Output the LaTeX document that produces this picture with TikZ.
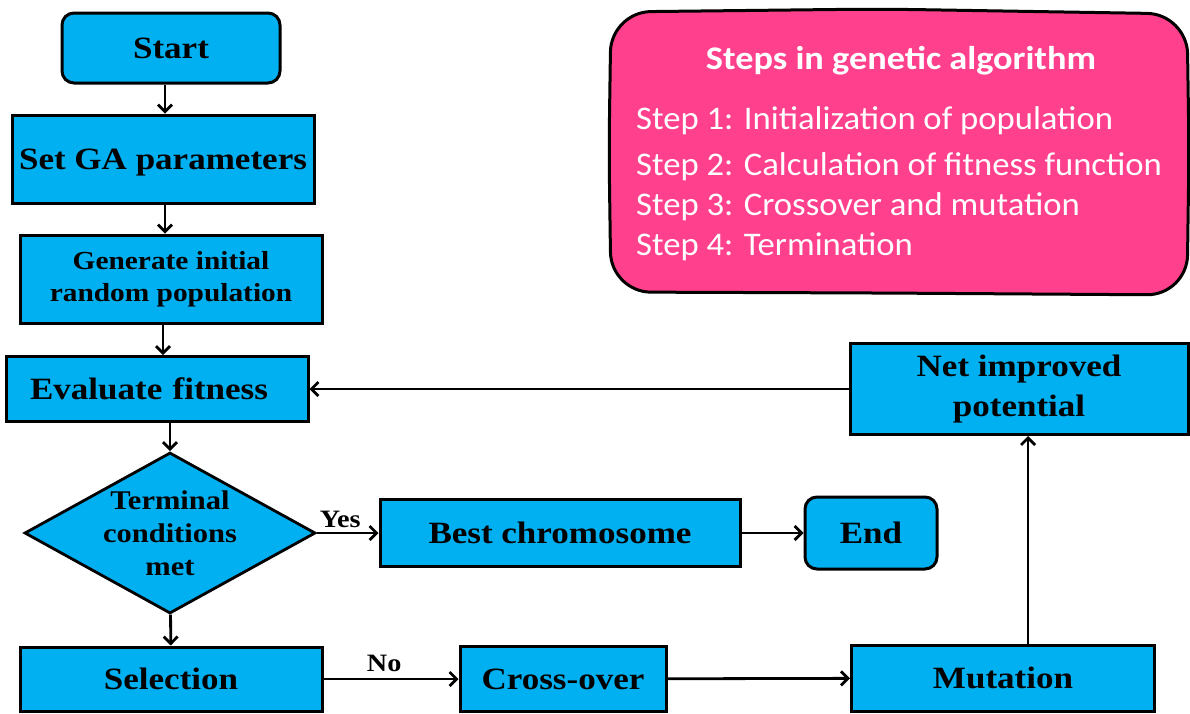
\documentclass[tikz,border=0pt]{standalone}
\usepackage{fontspec}
\setmainfont[FakeStretch=1.13]{Liberation Serif}
\newfontfamily\notefont[FakeStretch=1.05]{Carlito}
\newfontfamily\notetitlefont[FakeStretch=1.1]{Carlito}
\usetikzlibrary{arrows.meta,shapes.geometric}
\definecolor{boxblue}{RGB}{0,176,240}
\definecolor{notepink}{RGB}{255,64,140}

\begin{document}
\begin{tikzpicture}[x=1pt,y=-1pt,
  box/.style={draw=black,line width=3pt,fill=boxblue,inner sep=0pt,
    align=center,font=\bfseries\fontsize{31}{34}\selectfont},
  oneline/.style={text depth=0pt},
  term/.style={box,oneline,rounded corners=12pt},
  decision/.style={draw=black,line width=2.8pt,fill=boxblue,shape=diamond,
    inner sep=0pt,minimum width=291pt,minimum height=161pt},
  flow/.style={line width=2.8pt,-{Straight Barb[length=7pt,width=14pt,line width=2.8pt]}},
  tag/.style={font=\bfseries\fontsize{25}{26}\selectfont},
  notetext/.style={text=white,anchor=base west,inner sep=0pt,
    font=\notefont\fontsize{33}{34}\selectfont},
]
\useasboundingbox (0,0) rectangle (1190,713);

% note card with the four steps, slightly hand-drawn outline
\draw[line width=3pt,fill=notepink,rounded corners=40pt]
  (609,150) -- (611,12) -- (880,9) -- (1187,14) -- (1189,150)
  -- (1187,295) -- (880,293) -- (611,292) -- cycle;
\node (title) [text=white,anchor=base,inner sep=0pt,
  font=\notetitlefont\bfseries\fontsize{33}{34}\selectfont] at (901,69) {Steps in genetic algorithm};
\node (s1) [notetext] at (636,129) {Step 1: Initialization of population};
\node (s2) [notetext] at (636,175) {Step 2: Calculation of fitness function};
\node (s3) [notetext] at (636,215) {Step 3: Crossover and mutation};
\node (s4) [notetext] at (636,255) {Step 4: Termination};

% flowchart nodes
\node (start) [term,minimum width=218pt,minimum height=70pt] at (171,48) {Start};
\node (param) [box,oneline,minimum width=302pt,minimum height=88pt] at (163,159) {Set GA parameters};
\node (init)  [box,minimum width=302pt,minimum height=88pt,
  font=\bfseries\fontsize{26}{32}\selectfont] at (171,279) {Generate initial\\random population};
\node (eval)  [box,oneline,minimum width=302pt,minimum height=65pt,text width=254pt,align=left] at (157,389) {Evaluate fitness};
\node (dec)   [decision] at (170,533) {};
\node (dectext) [align=center,font=\bfseries\fontsize{27}{33}\selectfont] at (dec) {Terminal\\conditions\\met};
\node (best)  [box,oneline,minimum width=360pt,minimum height=67pt] at (560,533) {Best chromosome};
\node (stop)  [term,minimum width=132pt,minimum height=72pt] at (871,533) {End};
\node (sel)   [box,oneline,minimum width=302pt,minimum height=64pt] at (171,679) {Selection};
\node (cross) [box,oneline,minimum width=206pt,minimum height=65pt] at (563,679) {Cross-over};
\node (mut)   [box,oneline,minimum width=303pt,minimum height=66pt] at (1003,678) {Mutation};
\node (net)   [box,minimum width=338pt,minimum height=91pt,
  font=\bfseries\fontsize{31}{40}\selectfont] at (1019,389) {Net improved\\potential};

% connectors
\draw[flow] ([xshift=-6pt]start.south) -- ([xshift=-6pt]start.south |- param.north);
\draw[flow] ([xshift=2pt]param.south) -- ([xshift=2pt]param.south |- init.north);
\draw[flow] ([xshift=-8pt]init.south) -- ([xshift=-8pt]init.south |- eval.north);
\draw[flow] (eval.south -| dec.north) -- (dec);
\draw[flow] (dec) -- (sel);
\draw[flow] (dec.east) -- node[tag,above=1pt,pos=0.38] (yes) {Yes} (best);
\draw[flow] (best) -- (stop);
\draw[flow] (sel) -- node[tag,above=3pt,pos=0.45] (no) {No} (cross);
\draw[flow] (cross) -- (mut);
\draw[flow] ([xshift=25pt]mut.north) -- ([xshift=25pt]mut.north |- net.south);
\draw[flow] (net) -- (eval);
\end{tikzpicture}
\end{document}
